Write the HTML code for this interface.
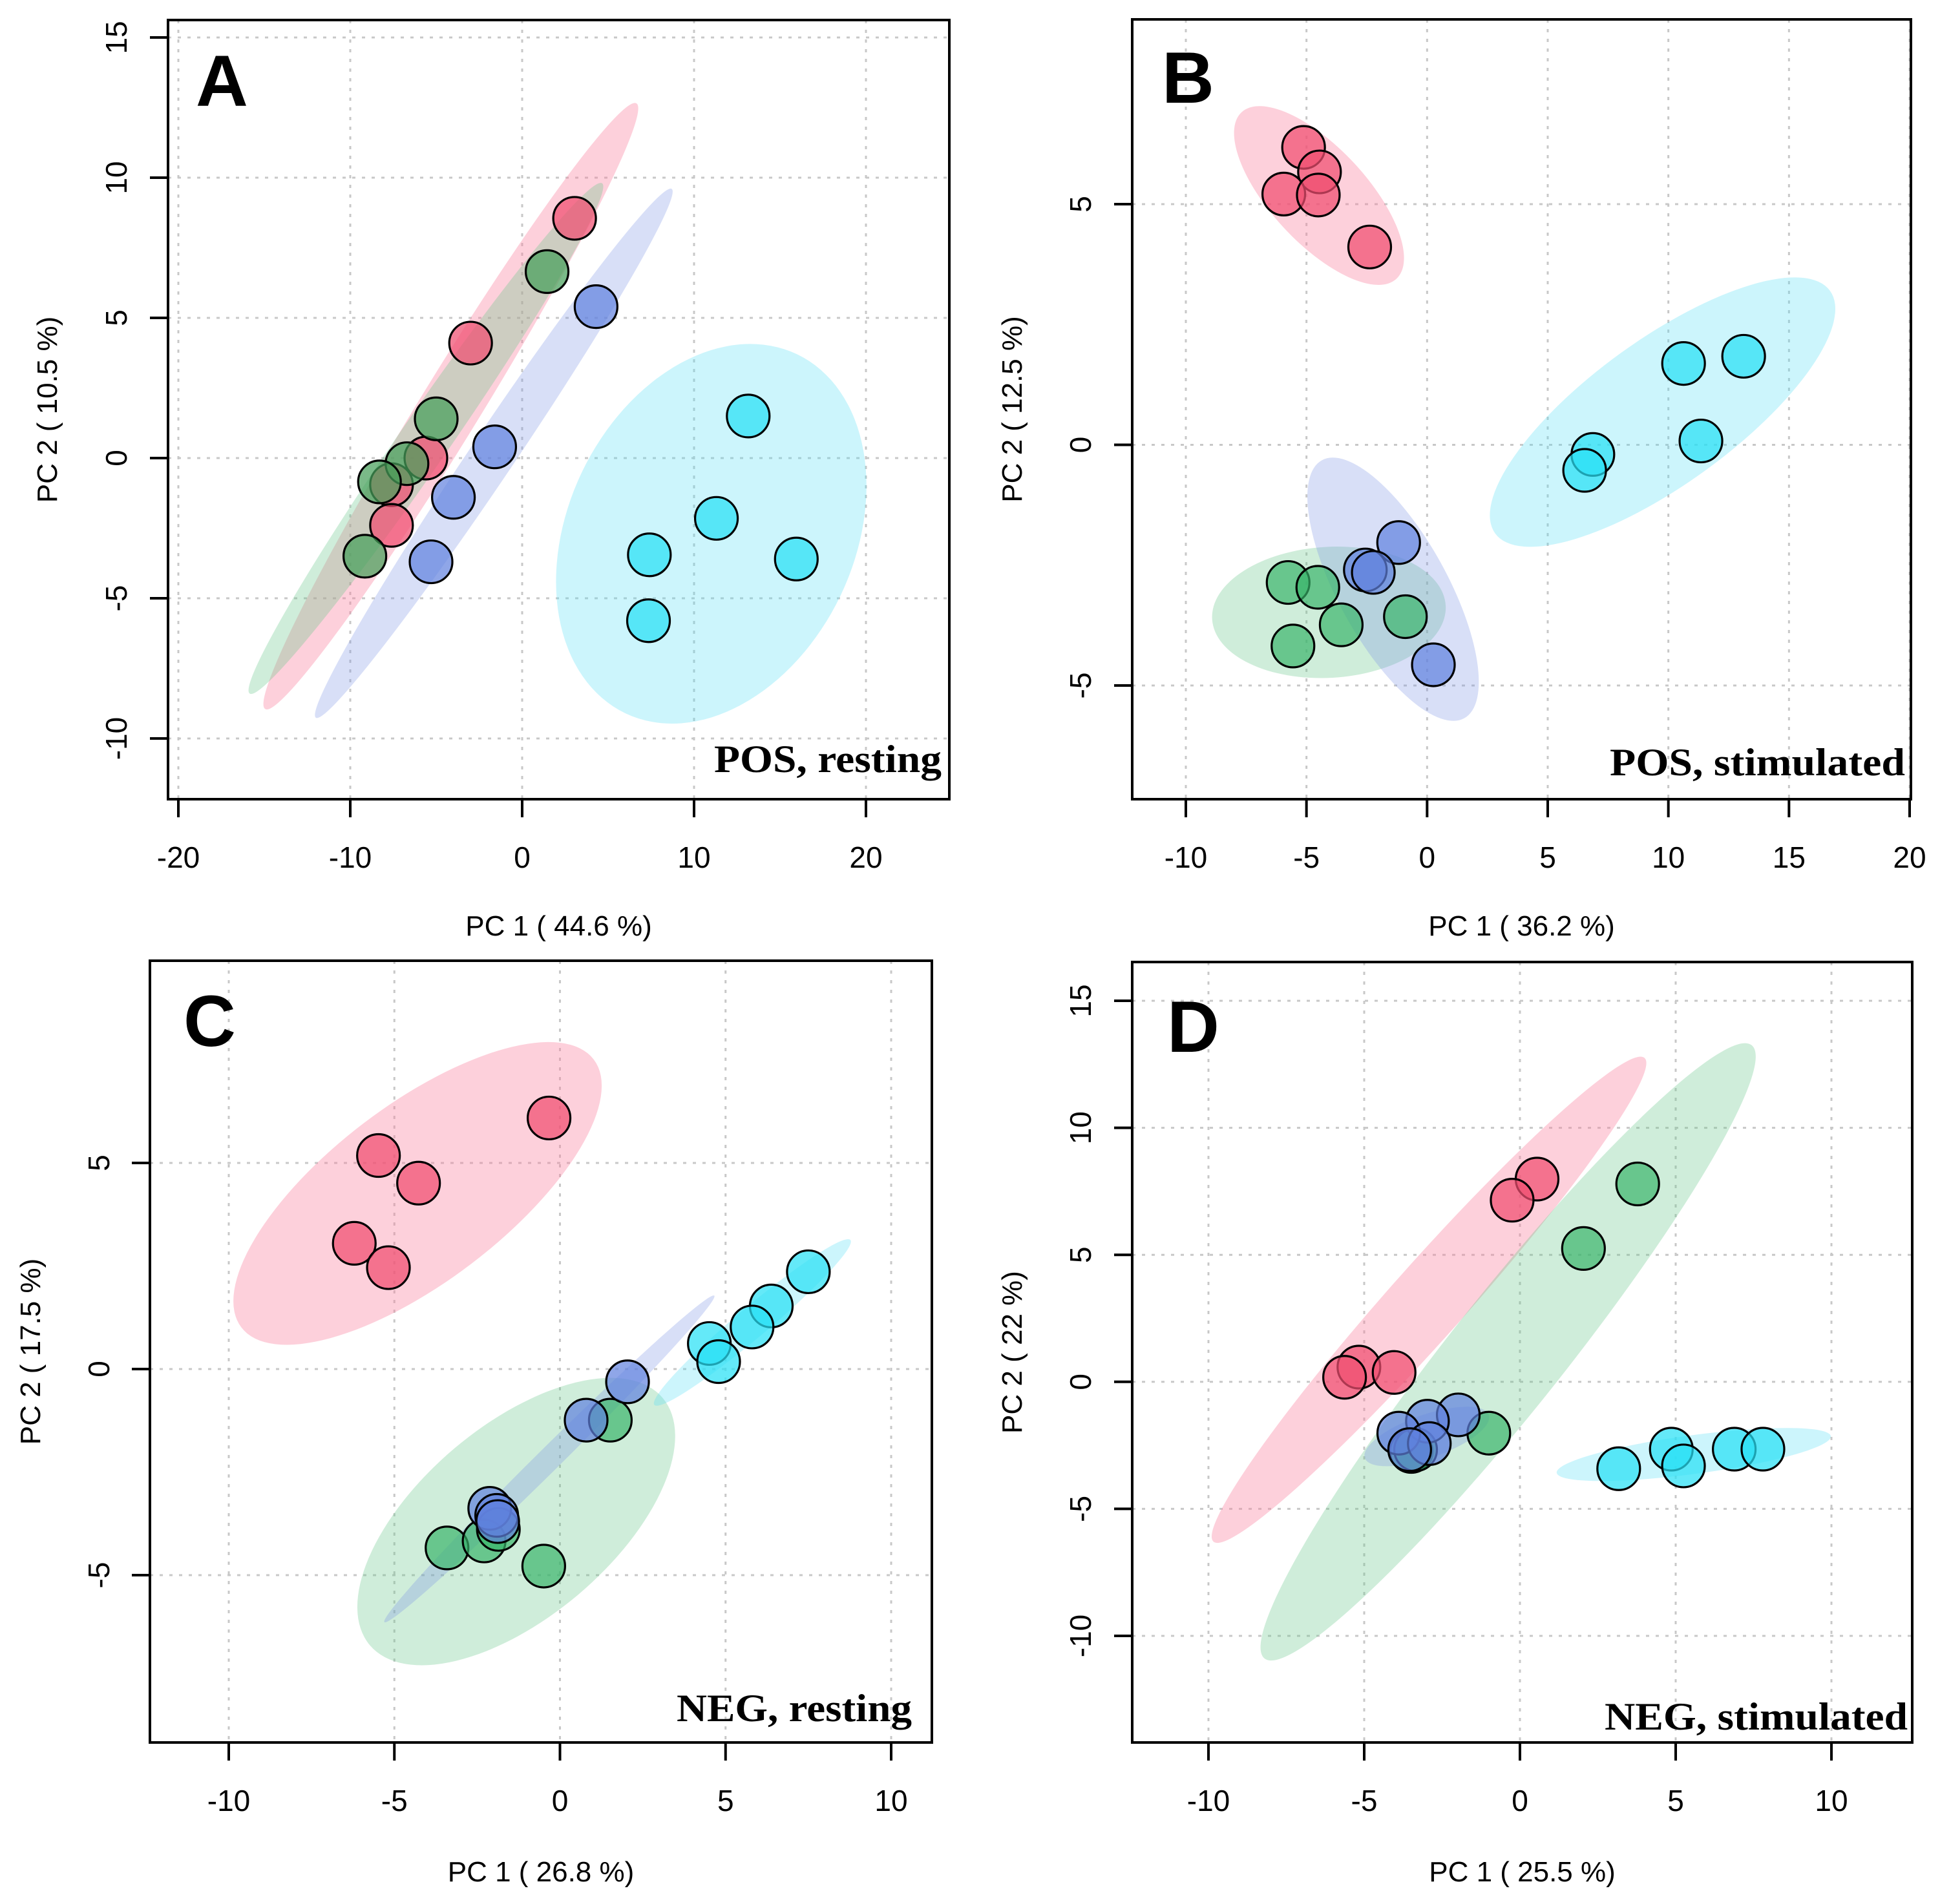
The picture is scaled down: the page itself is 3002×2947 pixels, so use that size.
<!DOCTYPE html>
<html><head><meta charset="utf-8"><title>PCA score plots</title>
<style>
html,body{margin:0;padding:0;background:#fff;}
svg{display:block;}
</style></head>
<body>
<svg id="fig" width="3002" height="2947" viewBox="0 0 3002 2947" xmlns="http://www.w3.org/2000/svg" font-family="'Liberation Sans', sans-serif"></svg>
<script>
// ===== Panel A data (POS, resting) =====
const aRedX = [3.05, -3.0, -5.6, -7.6, -7.6];
const aRedY = [8.55, 4.1, 0.0, -0.95, -2.4];
const aGreenX = [1.45, -5.0, -6.7, -8.3, -9.15];
const aGreenY = [6.65, 1.4, -0.2, -0.85, -3.5];
const aBlueX = [4.3, -1.6, -4.0, -5.3];
const aBlueY = [5.4, 0.4, -1.4, -3.7];
const aCyanX = [13.15, 11.3, 7.4, 7.35, 15.95];
const aCyanY = [1.5, -2.15, -3.45, -5.8, -3.6];
// ellipse: [centerX, centerY, tipX, tipY, minor/major ratio]
const aEllRed = [-4.15, 1.85, 6.65, 12.65, 0.085];
const aEllGreen = [-5.6, 0.7, 4.65, 9.8, 0.08];
const aEllBlue = [-1.65, 0.17, 8.7, 9.6, 0.07];
const aEllCyan = [11.0, -2.7, 16.0, 3.7, 0.72];
const aXTicks = [-20, -10, 0, 10, 20];
const aYTicks = [-10, -5, 0, 5, 10, 15];

// ===== Panel B data (POS, stimulated) =====
const bRedX = [-5.12, -4.46, -5.94, -4.51, -2.38];
const bRedY = [6.18, 5.67, 5.21, 5.19, 4.11];
const bGreenX = [-5.76, -4.53, -3.56, -0.9, -5.56];
const bGreenY = [-2.86, -2.96, -3.74, -3.57, -4.18];
const bBlueX = [-1.18, -2.56, -2.23, 0.26];
const bBlueY = [-2.03, -2.6, -2.65, -4.57];
const bCyanX = [10.63, 13.12, 11.35, 6.87, 6.53];
const bCyanY = [1.69, 1.84, 0.08, -0.2, -0.53];
const bEllRed = [-4.48, 5.18, -7.69, 6.91, 0.42];
const bEllGreen = [-4.07, -3.48, 0.77, -3.34, 0.56];
const bEllBlue = [-1.41, -3.0, -4.36, -0.32, 0.37];
const bEllCyan = [9.76, 0.68, 16.7, 3.2, 0.35];
const bXTicks = [-10, -5, 0, 5, 10, 15, 20];
const bYTicks = [-5, 0, 5];

// ===== Panel C data (NEG, resting) =====
const cRedX = [-0.33, -5.48, -4.27, -6.21, -5.18];
const cRedY = [6.09, 5.18, 4.51, 3.05, 2.46];
const cGreenX = [1.52, -3.41, -2.29, -1.86, -0.49];
const cGreenY = [-1.24, -4.34, -4.17, -3.89, -4.78];
const cBlueX = [2.04, 0.79, -2.12, -1.91, -1.88];
const cBlueY = [-0.31, -1.24, -3.38, -3.55, -3.7];
const cCyanX = [7.5, 6.38, 5.8, 4.51, 4.79];
const cCyanY = [2.36, 1.53, 1.02, 0.62, 0.18];
const cEllRed = [-4.3, 4.26, 1.02, 7.51, 0.40];
const cEllGreen = [-1.32, -3.7, 3.1, -0.7, 0.5];
const cEllBlue = [-0.32, -2.18, 4.66, 1.78, 0.05];
const cEllCyan = [5.81, 1.13, 8.77, 3.13, 0.12];
const cXTicks = [-10, -5, 0, 5, 10];
const cYTicks = [-5, 0, 5];

// ===== Panel D data (NEG, stimulated) =====
const dRedX = [0.55, -0.25, -5.17, -5.63, -4.04];
const dRedY = [7.98, 7.15, 0.58, 0.18, 0.37];
const dGreenX = [3.78, 2.04, -1.0, -3.49, -3.35];
const dGreenY = [7.79, 5.25, -2.02, -2.74, -2.67];
const dBlueX = [-1.98, -2.97, -3.89, -2.91, -3.54];
const dBlueY = [-1.3, -1.55, -2.02, -2.43, -2.67];
const dCyanX = [3.17, 4.86, 5.25, 6.88, 7.8];
const dCyanY = [-3.42, -2.65, -3.31, -2.65, -2.65];
const dEllRed = [-2.92, 3.23, 4.0, 12.75, 0.115];
const dEllGreen = [-0.38, 1.18, 7.44, 13.25, 0.145];
const dEllBlue = [-2.99, -2.15, -1.0, -1.3, 0.33];
const dEllCyan = [5.58, -2.86, 9.98, -2.14, 0.14];
const dXTicks = [-10, -5, 0, 5, 10];
const dYTicks = [-10, -5, 0, 5, 10, 15];

const NS = 'http://www.w3.org/2000/svg';
const svg = document.getElementById('fig');
function mk(tag, attrs, parent) {
  const e = document.createElementNS(NS, tag);
  for (const k in attrs) e.setAttribute(k, attrs[k]);
  (parent || svg).appendChild(e);
  return e;
}

const ELL = {red:'rgba(250,125,155,0.36)', green:'rgba(105,200,140,0.32)', blue:'rgba(125,150,228,0.30)', cyan:'rgba(85,222,245,0.30)'};
const PT = {red:'rgba(240,78,112,0.72)', green:'rgba(55,180,105,0.68)', blue:'rgba(95,128,222,0.70)', cyan:'rgba(40,224,245,0.72)'};

function panel(cfg) {
  const g = mk('g', {});
  
  
  const [L, T, R, B] = cfg.box;
  const sx = v => cfg.xp[0] + (v - cfg.xv[0]) * (cfg.xp[1] - cfg.xp[0]) / (cfg.xv[1] - cfg.xv[0]);
  const sy = v => cfg.yp[0] + (v - cfg.yv[0]) * (cfg.yp[1] - cfg.yp[0]) / (cfg.yv[1] - cfg.yv[0]);

  const grid = mk('g', {stroke:'#c8c8c8', 'stroke-width':3, 'stroke-dasharray':'5 10', fill:'none'}, g);
  
  
  cfg.xt.forEach(v => {
    const l = mk('line', {x1:sx(v), x2:sx(v), y1:T, y2:B}, grid);
    
    
  });
  cfg.yt.forEach(v => {
    const l = mk('line', {x1:L, x2:R, y1:sy(v), y2:sy(v)}, grid);
    
    
  });

  const clipId = 'clip-' + cfg.id;
  const cp = mk('clipPath', {id: clipId}, g);
  mk('rect', {x:L, y:T, width:R-L, height:B-T}, cp);
  const eg = mk('g', {'clip-path':'url(#' + clipId + ')'}, g);
  cfg.ells.forEach(([name, e]) => {
    const cx = sx(e[0]), cy = sy(e[1]), tx = sx(e[2]), ty = sy(e[3]);
    const a = Math.hypot(tx - cx, ty - cy);
    const ang = Math.atan2(ty - cy, tx - cx) * 180 / Math.PI;
    const el = mk('ellipse', {cx:cx, cy:cy, rx:a, ry:a * e[4], fill:ELL[name], transform:'rotate(' + ang + ' ' + cx + ' ' + cy + ')'}, eg);
    
    
  });
  cfg.pts.forEach(([name, xs, ys]) => {
    xs.forEach((x, i) => {
      const c = mk('circle', {cx:sx(x), cy:sy(ys[i]), r:33, fill:(cfg.id==='a' && name==='green') ? 'rgba(70,160,90,0.72)' : PT[name], stroke:'#000', 'stroke-width':3.2}, eg);
      
      
    });
  });

  const bx = mk('rect', {x:L, y:T, width:R-L, height:B-T, fill:'none', stroke:'#000', 'stroke-width':4}, g);
  
  

  const xa = mk('g', {stroke:'#000', 'stroke-width':4}, g);
  
  
  mk('line', {x1:sx(cfg.xt[0]), x2:sx(cfg.xt[cfg.xt.length-1]), y1:B, y2:B}, xa);
  cfg.xt.forEach(v => {
    mk('line', {x1:sx(v), x2:sx(v), y1:B, y2:B + 28}, xa);
    const t = mk('text', {x:sx(v), y:cfg.xlabY, 'font-size':46, 'text-anchor':'middle', fill:'#000'}, g);
    t.textContent = String(v);
    
    
  });
  const ya = mk('g', {stroke:'#000', 'stroke-width':4}, g);
  
  
  mk('line', {x1:L, x2:L, y1:sy(cfg.yt[0]), y2:sy(cfg.yt[cfg.yt.length-1])}, ya);
  cfg.yt.forEach(v => {
    mk('line', {x1:L, x2:L - 28, y1:sy(v), y2:sy(v)}, ya);
    const t = mk('text', {x:cfg.ylabX, y:sy(v), 'font-size':46, 'text-anchor':'middle', fill:'#000', transform:'rotate(-90 ' + cfg.ylabX + ' ' + sy(v) + ')'}, g);
    t.textContent = String(v);
    
    
  });
  const xt = mk('text', {x:(L + R) / 2, y:cfg.xTitleY, 'font-size':44, 'text-anchor':'middle', fill:'#000'}, g);
  xt.textContent = cfg.xTitle;
  
  
  const ycy = (T + B) / 2;
  const yt = mk('text', {x:cfg.yTitleX, y:ycy, 'font-size':44, 'text-anchor':'middle', fill:'#000', transform:'rotate(-90 ' + cfg.yTitleX + ' ' + ycy + ')'}, g);
  yt.textContent = cfg.yTitle;
  
  
  const lt = mk('text', {x:cfg.letter[1], y:cfg.letter[2], 'font-size':112, 'font-weight':'bold', fill:'#000'}, g);
  lt.textContent = cfg.letter[0];
  
  
  const st = mk('text', {x:cfg.sub[1], y:cfg.sub[2], 'font-size':60, 'font-weight':'bold', 'font-family':"'Liberation Serif', serif", 'text-anchor':'end', fill:'#000', textLength:cfg.sub[3], lengthAdjust:'spacingAndGlyphs'}, g);
  st.textContent = cfg.sub[0];
  
  
}

panel({id:'a', box:[260,31,1469,1237], xv:[-20,20], xp:[276,1340], yv:[15,-10], yp:[58,1143],
  xt:aXTicks, yt:aYTicks, xlabY:1343, ylabX:196, xTitleY:1448, yTitleX:88,
  xTitle:'PC 1 ( 44.6 %)', yTitle:'PC 2 ( 10.5 %)', letter:['A',303,164], sub:['POS, resting',1457,1195,352],
  ells:[['red',aEllRed],['green',aEllGreen],['blue',aEllBlue],['cyan',aEllCyan]],
  pts:[['red',aRedX,aRedY],['green',aGreenX,aGreenY],['blue',aBlueX,aBlueY],['cyan',aCyanX,aCyanY]]});
panel({id:'b', box:[1752,30,2957,1237], xv:[-10,20], xp:[1835,2955], yv:[5,-5], yp:[316,1061],
  xt:bXTicks, yt:bYTicks, xlabY:1343, ylabX:1688, xTitleY:1448, yTitleX:1581,
  xTitle:'PC 1 ( 36.2 %)', yTitle:'PC 2 ( 12.5 %)', letter:['B',1798,159], sub:['POS, stimulated',2948,1200,457],
  ells:[['red',bEllRed],['cyan',bEllCyan],['green',bEllGreen],['blue',bEllBlue]],
  pts:[['red',bRedX,bRedY],['cyan',bCyanX,bCyanY],['green',bGreenX,bGreenY],['blue',bBlueX,bBlueY]]});
panel({id:'c', box:[232,1487,1442,2697], xv:[-10,10], xp:[354,1379], yv:[5,-5], yp:[1800,2438],
  xt:cXTicks, yt:cYTicks, xlabY:2803, ylabX:169, xTitleY:2912, yTitleX:62,
  xTitle:'PC 1 ( 26.8 %)', yTitle:'PC 2 ( 17.5 %)', letter:['C',284,1619], sub:['NEG, resting',1411,2664,364],
  ells:[['red',cEllRed],['green',cEllGreen],['blue',cEllBlue],['cyan',cEllCyan]],
  pts:[['red',cRedX,cRedY],['cyan',cCyanX,cCyanY],['green',cGreenX,cGreenY],['blue',cBlueX,cBlueY]]});
panel({id:'d', box:[1752,1489,2959,2697], xv:[-10,10], xp:[1870,2834], yv:[15,-10], yp:[1549,2532],
  xt:dXTicks, yt:dYTicks, xlabY:2803, ylabX:1688, xTitleY:2912, yTitleX:1581,
  xTitle:'PC 1 ( 25.5 %)', yTitle:'PC 2 ( 22 %)', letter:['D',1806,1628], sub:['NEG, stimulated',2952,2677,469],
  ells:[['red',dEllRed],['green',dEllGreen],['blue',dEllBlue],['cyan',dEllCyan]],
  pts:[['red',dRedX,dRedY],['green',dGreenX,dGreenY],['blue',dBlueX,dBlueY],['cyan',dCyanX,dCyanY]]});
</script>
</body></html>
